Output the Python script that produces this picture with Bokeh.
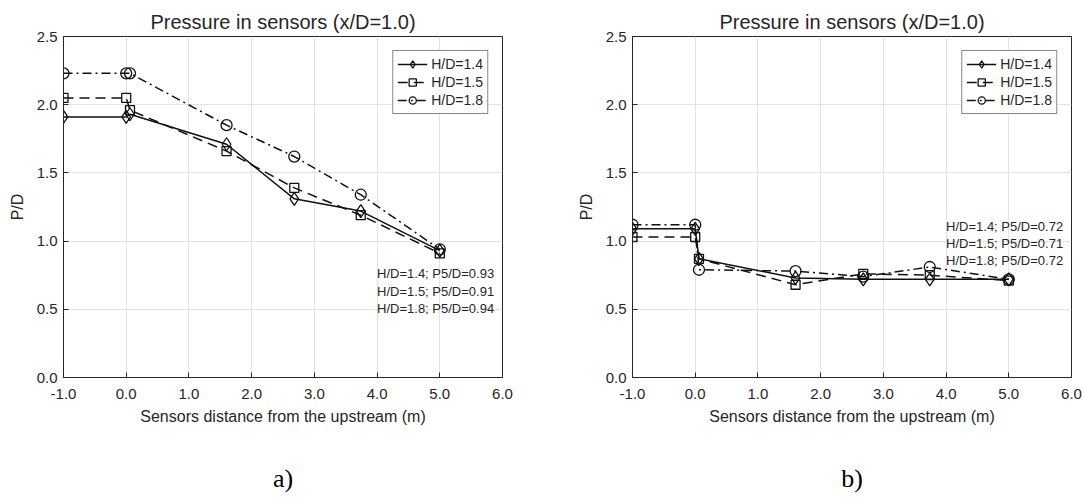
from bokeh.plotting import figure
from bokeh.layouts import row
from bokeh.models import (FixedTicker, PrintfTickFormatter, LinearAxis,
                          Range1d, Legend, LegendItem, ColumnDataSource)
from bokeh.core.properties import value
from bokeh.embed import file_html
from bokeh.resources import INLINE

# ---------------- data ----------------
sensor_x = [-1.0, 0.0, 0.06, 1.6, 2.68, 3.74, 5.0]

a_hd14 = [1.91, 1.91, 1.93, 1.71, 1.31, 1.22, 0.93]
a_hd15 = [2.05, 2.05, 1.96, 1.66, 1.39, 1.19, 0.91]
a_hd18 = [2.23, 2.23, 2.23, 1.85, 1.62, 1.34, 0.94]

b_hd14 = [1.09, 1.09, 0.87, 0.73, 0.72, 0.72, 0.72]
b_hd15 = [1.03, 1.03, 0.87, 0.68, 0.76, 0.75, 0.71]
b_hd18 = [1.12, 1.12, 0.79, 0.78, 0.74, 0.81, 0.72]

hd_values = [1.4, 1.5, 1.8]
hd_labels = ["H/D=1.4", "H/D=1.5", "H/D=1.8"]

x_ticks = [-1.0, 0.0, 1.0, 2.0, 3.0, 4.0, 5.0, 6.0]
y_ticks = [0.0, 0.5, 1.0, 1.5, 2.0, 2.5]

chart_title = "Pressure in sensors (x/D=1.0)"
x_label = "Sensors distance from the upstream (m)"
y_label = "P/D"
panel_tags = ["a)", "b)"]

# ---------------- style ----------------
FONT = "Liberation Sans"
TXT = "#262626"
FRAME_W = 439
FRAME_H = 341
styles = [
    dict(marker="diamond", size=13, dash="solid"),
    dict(marker="square", size=9, dash="10 6"),
    dict(marker="circle", size=11, dash="9 4 2 4"),
]


def make_panel(series, tag, left_border, right_border, ann_y):
    p = figure(width=left_border + FRAME_W + right_border, height=498,
               output_backend="svg", toolbar_location=None,
               x_range=Range1d(-1, 6), y_range=Range1d(0, 2.5),
               min_border_left=left_border, min_border_right=right_border,
               min_border_top=36, min_border_bottom=498 - 36 - FRAME_H,
               background_fill_color="white", border_fill_color="white")
    p.outline_line_color = TXT
    p.outline_line_width = 1

    p.title.text = chart_title
    p.title.align = "center"
    p.title.text_font = FONT
    p.title.text_font_size = "20px"
    p.title.text_font_style = "normal"
    p.title.text_color = TXT
    p.title.standoff = 7

    for ax, ticks in ((p.xaxis[0], x_ticks), (p.yaxis[0], y_ticks)):
        ax.ticker = FixedTicker(ticks=ticks)
        ax.formatter = PrintfTickFormatter(format="%.1f")
        ax.major_tick_in = 5
        ax.major_tick_out = 0
        ax.minor_tick_line_color = None
        ax.axis_line_color = TXT
        ax.major_tick_line_color = TXT
        ax.major_label_text_font = FONT
        ax.major_label_text_font_size = "15px"
        ax.major_label_text_color = TXT
        ax.axis_label_text_font = FONT
        ax.axis_label_text_font_size = "16px"
        ax.axis_label_text_font_style = "normal"
        ax.axis_label_text_color = TXT
    p.xaxis[0].axis_label = x_label
    p.yaxis[0].axis_label = y_label
    p.xaxis[0].major_label_standoff = 11
    p.xaxis[0].axis_label_standoff = 6
    p.yaxis[0].major_label_standoff = 6
    p.yaxis[0].axis_label_standoff = 8

    # panel tag "a)" / "b)" below the x-axis label, as a tick-less axis label
    tag_axis = LinearAxis(ticker=FixedTicker(ticks=[]), axis_label=tag,
                          axis_line_color=None, major_tick_line_color=None,
                          minor_tick_line_color=None, major_tick_out=0,
                          major_tick_in=0, major_label_standoff=0,
                          axis_label_standoff=36,
                          axis_label_text_font="Liberation Serif",
                          axis_label_text_font_size="26px",
                          axis_label_text_font_style="normal",
                          axis_label_text_color="black")
    p.add_layout(tag_axis, "below")

    p.grid.grid_line_color = "#e3e3e3"
    p.grid.grid_line_width = 1
    p.xgrid.ticker = FixedTicker(ticks=x_ticks)
    p.ygrid.ticker = FixedTicker(ticks=y_ticks)

    items = []
    for vals, lab, st in zip(series, hd_labels, styles):
        src = ColumnDataSource(dict(x=sensor_x, y=vals))
        ln = p.line("x", "y", source=src, line_color="#111111",
                    line_width=1.5, line_dash=st["dash"])
        sc = p.scatter("x", "y", source=src, marker=st["marker"],
                       size=st["size"], fill_color=None,
                       line_color="#111111", line_width=1.3)
        items.append(LegendItem(label=lab, renderers=[ln, sc]))

    leg = Legend(items=items, location="top_right", margin=14,
                 border_line_color="#111111", border_line_width=1,
                 background_fill_color="white", background_fill_alpha=1,
                 label_text_font=FONT, label_text_font_size="14px",
                 label_text_color=TXT, glyph_width=30, glyph_height=18,
                 label_height=18, label_standoff=4, padding=4, spacing=0)
    p.add_layout(leg, "center")

    ann = [f"H/D={h}; P5/D={v[-1]:.2f}" for h, v in zip(hd_values, series)]
    p.text(x=[4.0] * 3, y=ann_y, text=ann, text_font=value(FONT),
           text_font_size="13px", text_color=TXT, text_baseline="middle",
           text_align="left")
    return p


p1 = make_panel([a_hd14, a_hd15, a_hd18], panel_tags[0], 63, 40,
                [0.764, 0.634, 0.504])
p2 = make_panel([b_hd14, b_hd15, b_hd18], panel_tags[1], 90, 13,
                [1.105, 0.98, 0.857])

layout = row(p1, p2)
open("out.html", "w").write(file_html(layout, INLINE))
